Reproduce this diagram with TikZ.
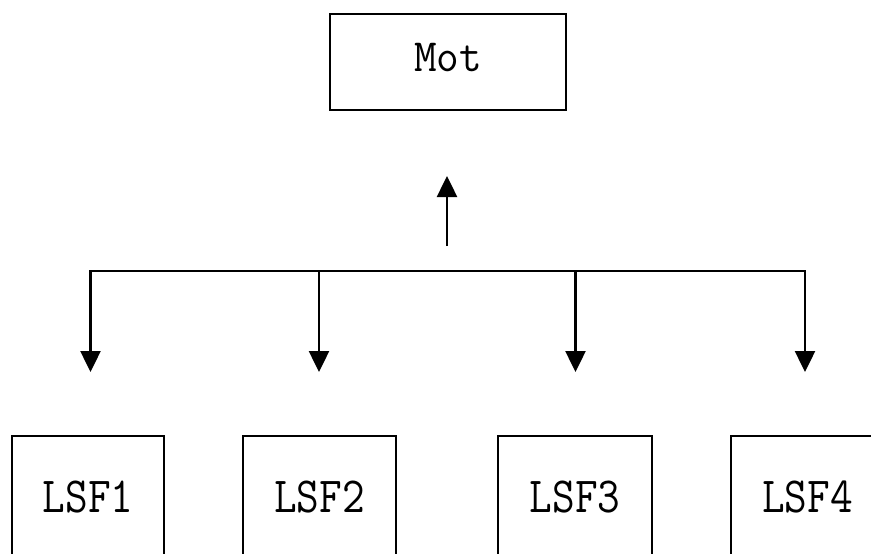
\documentclass[tikz,border=0pt]{standalone}
\usepackage{fontspec}
\usetikzlibrary{arrows.meta}
\begin{document}
\begin{tikzpicture}[x=1pt,y=-1pt,
  line width=2.5pt,
  box/.style={draw, line width=2.5pt, inner sep=0pt, rectangle,
    font=\ttfamily\fontsize{44}{44}\selectfont},
  arr/.style={-{Triangle[width=20pt,length=21pt]}}]
\useasboundingbox (0,0) rectangle (871,554);
\clip (0,0) rectangle (871,554);
\fill[white] (0,0) rectangle (871,554);

\node[box, minimum width=236pt, minimum height=96pt] (mot) at (448,62)
  {\raisebox{10pt}{\scalebox{1}[1.05]{Mot}}};

\node[box, minimum width=152pt, minimum height=140pt] (lsf1) at (88,506)
  {\raisebox{19pt}{\scalebox{1}[1.15]{LSF1}}};
\node[box, minimum width=153pt, minimum height=140pt] (lsf2) at (319.5,506)
  {\raisebox{19pt}{\scalebox{1}[1.15]{LSF2}}};
\node[box, minimum width=154pt, minimum height=140pt] (lsf3) at (575,506)
  {\raisebox{19pt}{\scalebox{1}[1.15]{LSF3}}};
\node[box, minimum width=153pt, minimum height=140pt] (lsf4) at (807.5,506)
  {\raisebox{19pt}{\scalebox{1}[1.15]{LSF4}}};

\coordinate (upbase) at (447,246);
\coordinate (uptip) at (447,176);
\coordinate (b1) at (90.5,271);
\coordinate (b2) at (319,271);
\coordinate (b3) at (575.5,271);
\coordinate (b4) at (805,271);
\coordinate (t1) at (90.5,372);
\coordinate (t2) at (319,372);
\coordinate (t3) at (575.5,372);
\coordinate (t4) at (805,372);

\draw[arr] (upbase) -- (uptip);
\draw[line cap=rect] (b1) -- (b4);
\draw[arr] (b1) -- (t1);
\draw[arr] (b2) -- (t2);
\draw[arr] (b3) -- (t3);
\draw[arr] (b4) -- (t4);
\end{tikzpicture}
\end{document}
